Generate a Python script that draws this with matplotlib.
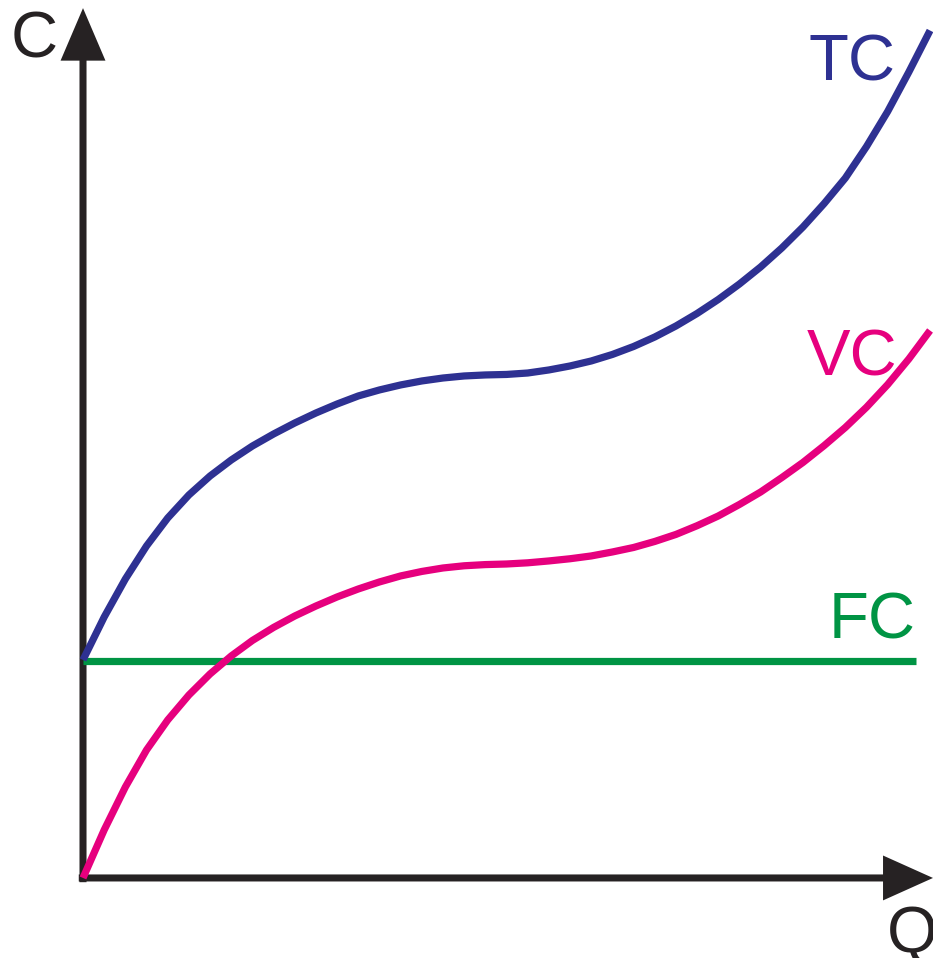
import numpy as np
from matplotlib import pyplot as plt

plt.rcParams['font.family'] = ['Liberation Sans', 'DejaVu Sans']

q = np.arange(0, 10.01, 0.25)

#Total cost
tc = [2.574, 3.081, 3.530, 3.920, 4.250, 4.522, 4.746, 4.935, 5.100, 5.242,
      5.372, 5.490, 5.596, 5.691, 5.762, 5.821, 5.868, 5.903, 5.927, 5.939,
      5.945, 5.962, 5.998, 6.045, 6.104, 6.181, 6.275, 6.387, 6.517, 6.665,
      6.830, 7.013, 7.214, 7.438, 7.686, 7.963, 8.264, 8.636, 9.050, 9.516,
      10.006]

#Variable cost
vc = [0.0, 0.567, 1.074, 1.511, 1.865, 2.160, 2.409, 2.621, 2.804, 2.958,
      3.093, 3.211, 3.318, 3.412, 3.495, 3.566, 3.619, 3.660, 3.686, 3.700,
      3.707, 3.721, 3.743, 3.769, 3.802, 3.849, 3.902, 3.973, 4.056, 4.159,
      4.274, 4.410, 4.557, 4.727, 4.906, 5.105, 5.319, 5.558, 5.826, 6.128,
      6.464]

#Fixed cost (flat line)
fc_q = [0, 9.83]
fc = [2.56, 2.56]

labels = ['TC', 'VC', 'FC']

navy = '#2E3192'
magenta = '#E6007E'
green = '#009444'
dark = '#262223'

fig = plt.figure(figsize=(9.33, 9.58), dpi=100)
ax = fig.add_axes([0, 0, 1, 1])
ax.set_xlim(-0.98, 10.035)
ax.set_ylim(-0.945, 10.366)
ax.axis('off')

#Axes with arrow heads
ax.arrow(-0.05, 0, 10.085, 0, width=0.083, head_width=0.53, head_length=0.59,
         length_includes_head=True, color=dark, lw=0)
ax.arrow(0, -0.05, 0, 10.32, width=0.083, head_width=0.53, head_length=0.62,
         length_includes_head=True, color=dark, lw=0)

ax.plot(fc_q, fc, color=green, lw=5.2, solid_capstyle='butt')
ax.plot(q, vc, color=magenta, lw=5.2, solid_capstyle='butt', solid_joinstyle='round')
ax.plot(q, tc, color=navy, lw=5.2, solid_capstyle='butt', solid_joinstyle='round')

ax.text(-0.85, 9.69, 'C', fontsize=47, color=dark, va='baseline', ha='left')
ax.text(9.49, -0.874, 'Q', fontsize=47, color=dark, va='baseline', ha='left')
ax.text(8.56, 9.41, labels[0], fontsize=47, color=navy, va='baseline', ha='left')
ax.text(8.55, 5.93, labels[1], fontsize=47, color=magenta, va='baseline', ha='left')
ax.text(8.80, 2.83, labels[2], fontsize=47, color=green, va='baseline', ha='left')

plt.savefig('out.png', dpi=100)
